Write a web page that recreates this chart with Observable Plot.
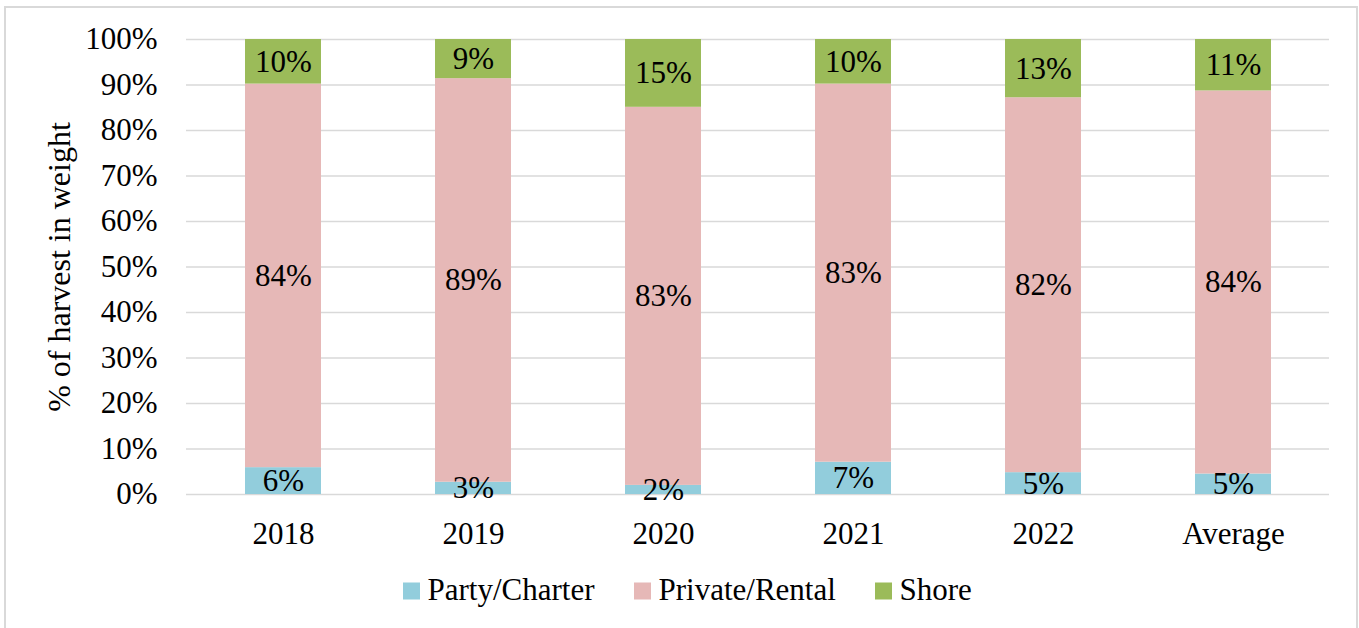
<!DOCTYPE html>
<html>
<head>
<meta charset="utf-8">
<script src="https://cdn.jsdelivr.net/npm/d3@7"></script>
<script src="https://cdn.jsdelivr.net/npm/@observablehq/plot@0.6"></script>
<style>
  body { margin: 0; background: #fff; }
  #wrap { position: relative; width: 1359px; height: 628px; overflow: hidden; background: #fff;
          font-family: "Liberation Serif", Tinos, "Times New Roman", serif; color: #000; }
  #chart { position: absolute; left: 0; top: 0; }
  #chart svg { font-family: "Liberation Serif", Tinos, "Times New Roman", serif; }
  #frame { position: absolute; left: 4px; top: 6px; width: 1354px; height: 624px; box-sizing: border-box;
           border: 2px solid #d9d9d9; pointer-events: none; }
  #legend { position: absolute; left: 0; top: 574px; width: 1359px; height: 31px; font-size: 31px; line-height: 31px; }
  .item { position: absolute; top: 0; display: flex; align-items: center; white-space: nowrap; }
  .sw { width: 16.5px; height: 16.5px; margin-right: 8px; transform: translateY(1.5px); }
</style>
</head>
<body>
<div id="wrap">
  <div id="chart"></div>
  <div id="legend"></div>
  <div id="frame"></div>
</div>
<script>
const categories = ["2018", "2019", "2020", "2021", "2022", "Average"];
const series = ["Party/Charter", "Private/Rental", "Shore"];
const partyCharter = [5.9, 2.7, 2.0, 7.1, 4.8, 4.5];
const privateRental = [84.3, 88.7, 83.1, 83.1, 82.4, 84.2];
const shore = [9.8, 8.6, 14.9, 9.8, 12.8, 11.3];
const colors = ["#92CDDC", "#E6B8B7", "#9BBB59"];
const yTicks = [0, 10, 20, 30, 40, 50, 60, 70, 80, 90, 100];
const yTitle = "% of harvest in weight";

const seriesValues = [partyCharter, privateRental, shore];
const rows = [];
series.forEach((s, si) => {
  categories.forEach((c, i) => rows.push({ category: c, series: s, value: seriesValues[si][i] }));
});

const serif = "'Liberation Serif', Tinos, 'Times New Roman', serif";
const chart = Plot.plot({
  width: 1359,
  height: 560,
  marginTop: 39,
  marginBottom: 66,
  marginLeft: 186,
  marginRight: 30,
  style: { fontFamily: serif, fontSize: "31px", color: "#000", background: "transparent" },
  x: { domain: categories, paddingInner: 0.6, paddingOuter: 0.3, label: null },
  y: { domain: [0, 100], label: null },
  color: { domain: series, range: colors },
  marks: [
    Plot.gridY(yTicks, { stroke: "#d9d9d9", strokeOpacity: 1, strokeWidth: 1.5 }),
    Plot.barY(rows, { x: "category", y: "value", fill: "series" }),
    Plot.text(rows, Plot.stackY({
      x: "category", y: "value", z: "series",
      text: d => Math.round(d.value) + "%",
      fill: "#000", fontSize: 31, fontFamily: serif
    })),
    Plot.axisY({ ticks: yTicks, tickFormat: d => d + "%", tickSize: 0, tickPadding: 29, fontSize: 31, fontFamily: serif, label: null }),
    Plot.axisX({ tickSize: 0, tickPadding: 27, fontSize: 31, fontFamily: serif, label: null }),
    Plot.text([yTitle], { frameAnchor: "left", dx: -127, rotate: -90, fontSize: 32, fontFamily: serif, textAnchor: "middle", lineAnchor: "middle", fill: "#000" })
  ]
});
document.getElementById("chart").appendChild(chart);

const legendLefts = [403, 634, 875];
const legend = document.getElementById("legend");
series.forEach((s, i) => {
  const item = document.createElement("div");
  item.className = "item";
  item.style.left = legendLefts[i] + "px";
  const sw = document.createElement("span");
  sw.className = "sw";
  sw.style.background = colors[i];
  const t = document.createElement("span");
  t.textContent = s;
  item.appendChild(sw);
  item.appendChild(t);
  legend.appendChild(item);
});
</script>
</body>
</html>
